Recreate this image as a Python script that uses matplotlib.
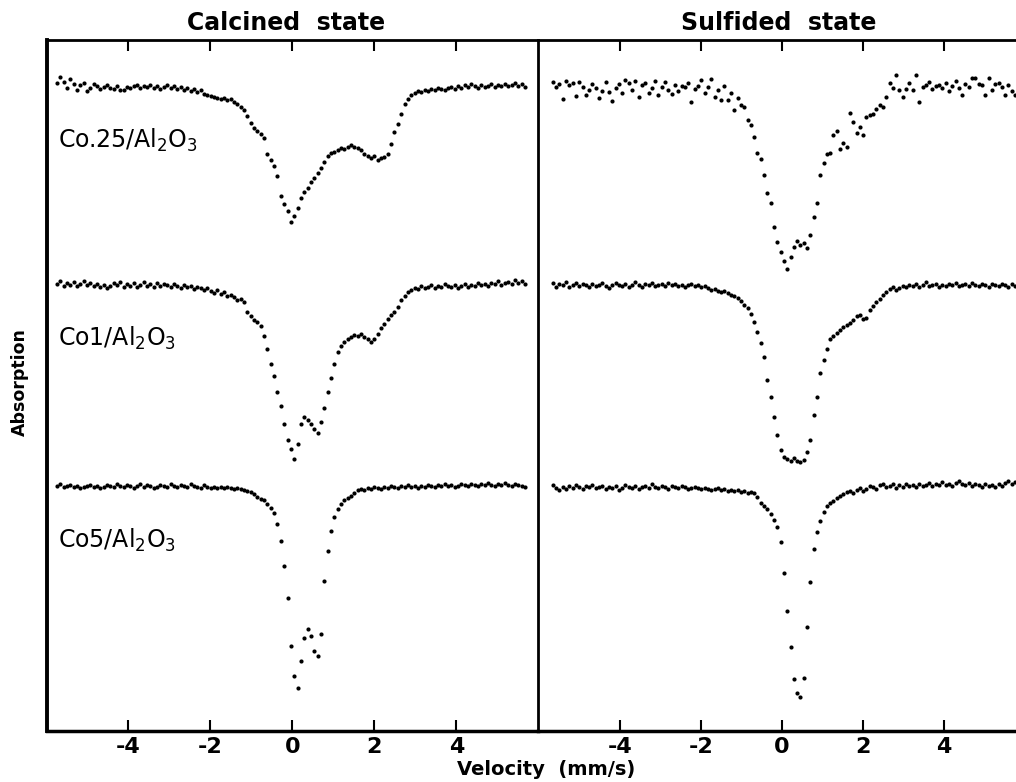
import numpy as np
import matplotlib.pyplot as plt

plt.rcParams['font.family'] = ['DejaVu Sans']
plt.rcParams['mathtext.fontset'] = 'dejavusans'

# Mossbauer channels, velocity in mm/s (each panel has its own calibration)
velocity_calc = np.linspace(-5.74, 5.67, 141)
velocity_sulf = np.linspace(-5.655, 5.755, 141)

# absorption (arb. units, larger = more absorption)
calc_co025 = [
    -3, -9, -4, 2, -7, -2, 4, -1, -3, 5,
    2, -2, 0, 3, 1, -1, 2, 3, 0, 4,
    4, 1, 2, 0, -1, 2, 0, 1, -1, 2,
    0, 3, 1, -1, 2, 0, 3, 1, 4, 2,
    5, 3, 6, 4, 8, 9, 10, 11, 12, 13,
    12, 14, 13, 16, 18, 21, 24, 30, 37, 42,
    45, 48, 52, 68, 74, 80, 90, 110, 118, 125,
    136, 130, 122, 112, 106, 102, 96, 92, 87, 82,
    76, 70, 67, 66, 64, 62, 63, 61, 59, 61,
    62, 64, 68, 70, 72, 70, 74, 72, 71, 68,
    58, 46, 38, 28, 18, 13, 9, 7, 5, 6,
    4, 5, 3, 4, 2, 3, 4, 2, 1, 3,
    0, 2, -1, 1, -2, 0, 2, -1, 1, 0,
    -2, 1, -1, 0, -2, 0, -1, -3, 0, -2,
    1]
calc_co1 = [
    0, -3, 2, -1, 1, -2, 2, 0, -3, 1,
    -1, 2, 0, 3, 1, 4, 2, -1, 1, -2,
    3, 0, 2, -1, 3, 1, -2, 2, 0, 3,
    -1, 2, 0, 1, 3, 0, 2, 4, 1, 3,
    2, 5, 3, 4, 6, 4, 7, 9, 6, 10,
    8, 12, 11, 13, 16, 15, 18, 28, 32, 36,
    38, 42, 52, 65, 80, 92, 108, 122, 140, 156,
    165, 175, 160, 140, 133, 136, 140, 145, 149, 138,
    124, 108, 94, 80, 68, 62, 58, 55, 53, 51,
    52, 50, 53, 55, 58, 55, 50, 44, 40, 35,
    31, 28, 23, 16, 12, 8, 6, 4, 5, 2,
    4, 3, 1, 4, 2, 3, 0, 2, 3, 1,
    4, 2, 0, 3, 1, 2, -1, 1, 0, 2,
    -1, 0, -3, 1, -1, -2, 0, -4, -1, -3,
    0]
calc_co5 = [
    0, -2, 1, 0, -1, 1, 0, 2, 1, 0,
    -1, 1, 0, 2, 1, -1, 0, 1, -2, 0,
    1, -1, 0, 2, 0, -2, 1, -1, 0, 2,
    1, -1, 0, 1, -2, 0, 1, -1, 0, 1,
    -2, 0, 1, 2, -1, 1, 2, 1, 2, 1,
    2, 1, 2, 3, 2, 3, 4, 5, 6, 8,
    11, 13, 14, 18, 22, 27, 38, 55, 80, 112,
    160, 190, 202, 175, 152, 143, 150, 165, 170, 148,
    95, 65, 45, 31, 23, 18, 14, 12, 10, 7,
    4, 3, 4, 2, 3, 1, 2, 3, 1, 2,
    0, 1, 2, 0, 1, -1, 1, 0, 2, 0,
    1, -1, 0, 1, -1, 0, -2, 0, -1, 1,
    0, -2, -1, 0, -2, -1, 0, -2, -1, -3,
    -1, 0, -2, -1, -3, -1, 0, -2, -1, 0,
    1]
sulf_co025 = [
    -3, 2, -1, 14, -4, 0, -2, 11, -3, 2,
    10, 5, -1, 3, 13, 6, -3, 7, 16, 3,
    -1, 8, -5, -2, 5, -4, 12, 0, -2, 8,
    3, -4, 10, 2, -3, 5, 9, 0, 6, 1,
    2, -2, 17, 4, 1, -5, 8, 2, -6, 12,
    5, 15, 1, 15, 8, 25, 13, 20, 22, 35,
    40, 52, 68, 74, 90, 108, 118, 142, 157, 167,
    176, 184, 172, 162, 156, 160, 158, 163, 150, 132,
    118, 90, 78, 69, 68, 50, 46, 64, 58, 62,
    28, 37, 48, 42, 50, 32, 30, 29, 24, 20,
    22, 12, -2, 3, -10, 5, 12, 4, -2, 5,
    -10, 17, 2, 0, -3, 4, 1, 0, 3, -2,
    6, 1, -4, 3, 10, -1, 2, -7, -7, -1,
    0, 10, -7, 5, -1, -2, 2, 10, 0, 6,
    10]
sulf_co1 = [
    -2, 2, -1, 0, -3, 2, 0, -2, 1, -1,
    0, 2, -1, 1, 0, -2, 1, 3, 0, -2,
    0, 1, -1, 2, 0, -3, 0, 2, -1, 0,
    -2, 1, 0, -1, 1, -2, 0, -1, 1, 0,
    2, 0, -1, 1, 0, 2, 1, 3, 5, 4,
    6, 7, 6, 8, 10, 11, 13, 16, 20, 23,
    29, 37, 47, 58, 72, 95, 112, 132, 150, 165,
    172, 174, 176, 173, 176, 177, 175, 167, 155, 130,
    112, 88, 75, 64, 54, 51, 48, 45, 42, 40,
    38, 35, 31, 30, 34, 33, 25, 21, 17, 14,
    10, 7, 4, 2, 5, 3, 1, 2, 0, 1,
    -1, 2, 0, -3, 1, 0, -1, 2, 0, 1,
    -1, 0, -2, 1, 0, -1, 1, -2, 0, 1,
    -1, 0, 2, -1, 0, 1, -1, 0, 2, -1,
    1]
sulf_co5 = [
    -2, 1, 3, 0, 2, -1, 1, -2, 0, 2,
    -1, 0, -2, 1, 0, -1, 2, 0, 1, -1,
    3, 1, -2, 0, 1, -1, 2, 0, -1, 1,
    -3, 0, 1, -1, 0, 2, -1, 0, 1, -1,
    0, 2, 1, 0, 1, 2, 1, 2, 3, 2,
    1, 3, 2, 4, 3, 4, 3, 5, 4, 6,
    5, 6, 10, 16, 19, 22, 27, 33, 40, 55,
    86, 124, 160, 192, 206, 210, 191, 140, 95, 62,
    45, 34, 25, 19, 16, 14, 11, 9, 7, 5,
    4, 6, 3, 1, 4, 2, -1, 0, 2, -2,
    -3, 0, -1, -3, 1, -2, 0, -3, -1, -2,
    0, -3, -1, -2, -4, -1, -3, -2, -5, -2,
    -3, -1, -4, -6, -3, -2, -4, -1, -3, -2,
    0, -3, -1, -2, 0, -3, -1, -4, -6, -3,
    -5]

sample_labels = [r'Co.25/Al$_2$O$_3$', r'Co1/Al$_2$O$_3$', r'Co5/Al$_2$O$_3$']
panel_titles = ['Calcined  state', 'Sulfided  state']
tick_vals = [-4, -2, 0, 2, 4]
tick_labels = ['-4', '-2', '0', '2', '4']

# vertical stacking of the three spectra (downwards)
calc_offsets = [46, 244, 446]
sulf_offsets = [45, 245, 447]

W, H = 1016, 782
fig = plt.figure(figsize=(W / 100, H / 100), dpi=100)
ax_l = fig.add_axes([47 / W, 51 / H, 491 / W, 691 / H])
ax_r = fig.add_axes([538 / W, 51 / H, 491 / W, 691 / H])

panels = [
    (ax_l, velocity_calc, [calc_co025, calc_co1, calc_co5], calc_offsets, (-5.98, 5.99)),
    (ax_r, velocity_sulf, [sulf_co025, sulf_co1, sulf_co5], sulf_offsets, (-6.02, 6.10)),
]
for ax, vel, spectra, offsets, xlim in panels:
    for spec, off in zip(spectra, offsets):
        ax.plot(vel, off + np.array(spec), 'o', ms=3.0, mew=0, color='black')
    ax.set_xlim(*xlim)
    ax.set_ylim(691, 0)
    ax.set_yticks([])
    ax.set_xticks(tick_vals)
    ax.set_xticklabels(tick_labels)
    ax.tick_params(axis='x', direction='in', top=True, bottom=True,
                   length=8, width=1.5, pad=4, labelsize=16)
    for lab in ax.get_xticklabels():
        lab.set_fontweight('bold')
    ax.spines['top'].set_linewidth(2.0)
    ax.spines['bottom'].set_linewidth(2.5)
    ax.spines['left'].set_linewidth(2.0)
    ax.spines['right'].set_visible(False)

ax_l.spines['left'].set_linewidth(2.8)

label_y = [100, 298, 500]
for lab, y in zip(sample_labels, label_y):
    ax_l.text(-5.72, y, lab, ha='left', va='center', fontsize=17)

fig.text(286 / W, 1 - 30 / H, panel_titles[0], ha='center', va='baseline',
         fontsize=17, fontweight='bold')
fig.text(779 / W, 1 - 30 / H, panel_titles[1], ha='center', va='baseline',
         fontsize=17, fontweight='bold')
fig.text(546 / W, 1 - 775 / H, 'Velocity  (mm/s)', ha='center', va='baseline',
         fontsize=14, fontweight='bold')
fig.text(20 / W, 1 - 382 / H, 'Absorption', ha='center', va='center',
         rotation=90, fontsize=12.5, fontweight='bold')

fig.savefig('out.png', dpi=100)
